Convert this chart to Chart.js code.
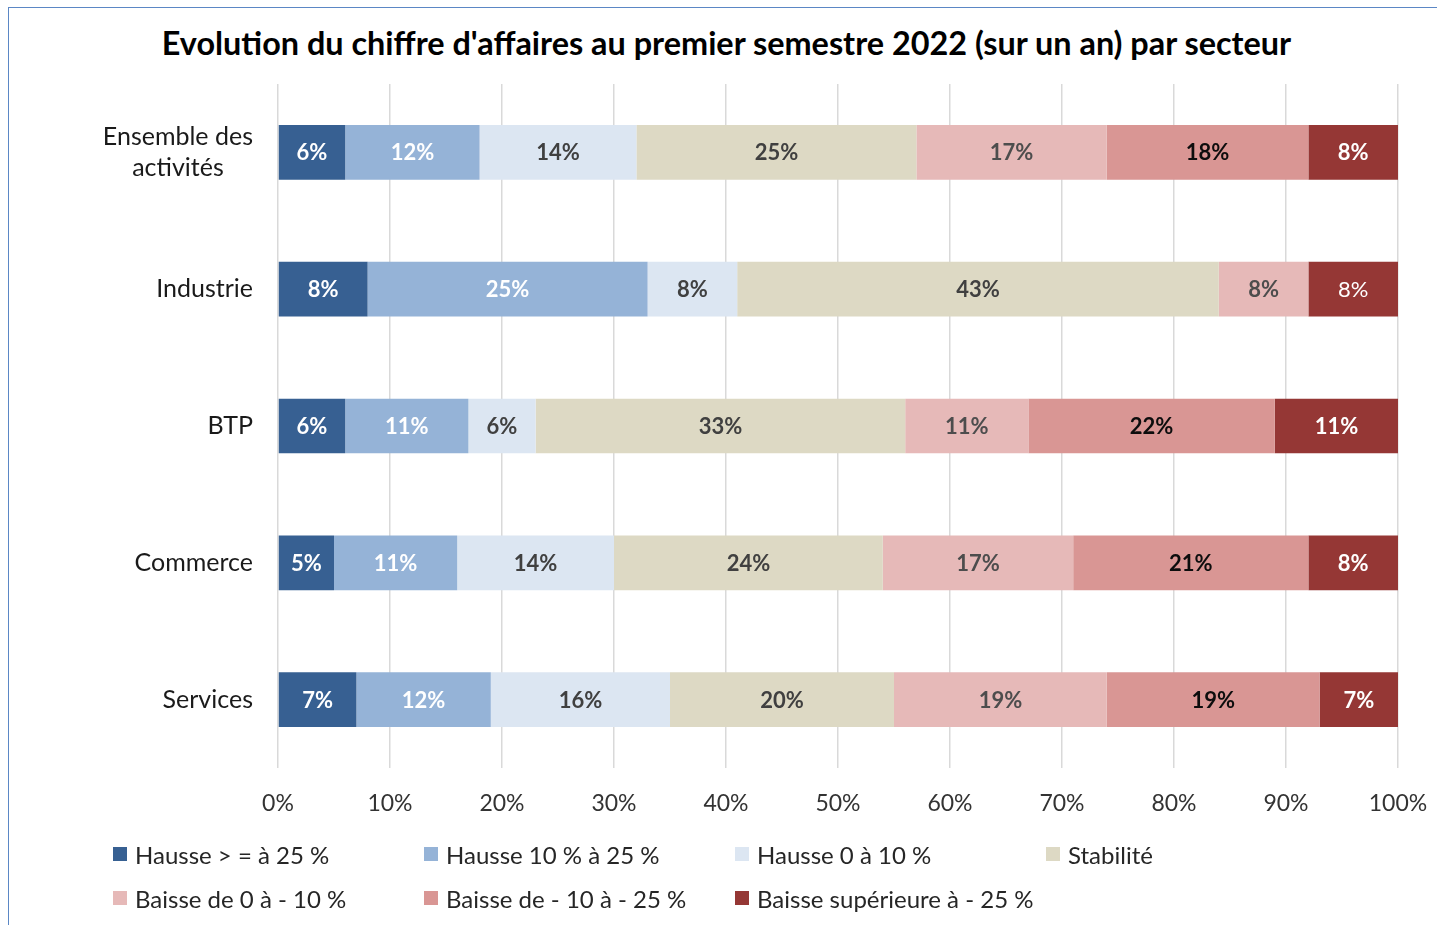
<!DOCTYPE html>
<html lang="fr">
<head>
<meta charset="utf-8">
<title>Evolution du chiffre d'affaires</title>
<script src="https://cdn.jsdelivr.net/npm/chart.js@4.4.1/dist/chart.umd.min.js"></script>
<style>
  html, body { margin: 0; padding: 0; background: #fff; }
  body { width: 1437px; height: 925px; position: relative; overflow: hidden; font-family: Lato, "Open Sans", sans-serif; }
  #frame { position: absolute; left: 8px; top: 7px; width: 1500px; height: 1000px; border: 1px solid #5b87c5; box-sizing: border-box; }
  #title { position: absolute; left: 0; width: 1453px; top: 24px; text-align: center; font-weight: bold; font-size: 32.4px; line-height: 38px; color: #000; }
  #wrap { position: absolute; left: 0; top: 0; width: 1437px; height: 925px; }
  #legend { position: absolute; left: 113px; top: 840px; display: grid; grid-template-columns: repeat(4, 311px); row-gap: 16px; }
  .item { display: flex; align-items: center; height: 28px; font-size: 24px; color: #262626; white-space: nowrap; }
  .sw { width: 14px; height: 14px; margin-right: 8px; flex: none; }
</style>
</head>
<body>
<div id="frame"></div>
<div id="title">Evolution du chiffre d'affaires au premier semestre 2022 (sur un an) par secteur</div>
<div id="wrap"><canvas id="chart" width="1437" height="925"></canvas></div>
<div id="legend"></div>
<script>
const $ = (id) => document.getElementById(id);

// categories (top to bottom)
const categories = [["Ensemble des", "activités"], "Industrie", "BTP", "Commerce", "Services"];

// series, in % of firms
const seriesNames = [
  "Hausse > = à 25 %",
  "Hausse 10 % à 25 %",
  "Hausse 0 à 10 %",
  "Stabilité",
  "Baisse de 0 à - 10 %",
  "Baisse de - 10 à - 25 %",
  "Baisse supérieure à - 25 %"
];
const hausse25 = [6, 8, 6, 5, 7];
const hausse10 = [12, 25, 11, 11, 12];
const hausse0 = [14, 8, 6, 14, 16];
const stabilite = [25, 43, 33, 24, 20];
const baisse0 = [17, 8, 11, 17, 19];
const baisse10 = [18, 0, 22, 21, 19];
const baisse25 = [8, 8, 11, 8, 7];

const xMin = 0;
const xMax = 100;
const xStep = 10;

// styles
const colors = ["#376092", "#95b3d7", "#dce6f2", "#ddd9c4", "#e6b9b8", "#d99694", "#953735"];
const labelColors = ["#ffffff", "#ffffff", "#404040", "#404040", "#4d4d4d", "#0d0d0d", "#ffffff"];
const normalWeightCells = [[6, 1]]; // dataset, category

const seriesValues = [hausse25, hausse10, hausse0, stabilite, baisse0, baisse10, baisse25];

$("legend").innerHTML = seriesNames
  .map((name, i) => `<div class="item"><span class="sw" style="background:${colors[i]}"></span>${name}</div>`)
  .join("");

const segmentLabels = {
  id: "segmentLabels",
  afterDatasetsDraw(chart) {
    const ctx = chart.ctx;
    ctx.save();
    ctx.textAlign = "center";
    ctx.textBaseline = "middle";
    chart.data.datasets.forEach((ds, i) => {
      chart.getDatasetMeta(i).data.forEach((bar, j) => {
        const v = ds.data[j];
        if (!v) return;
        const normal = normalWeightCells.some(([a, b]) => a === i && b === j);
        ctx.font = `${normal ? "" : "bold "}22px Lato`;
        ctx.fillStyle = labelColors[i];
        ctx.fillText(v + "%", (bar.x + bar.base) / 2, bar.y + 1);
      });
    });
    ctx.restore();
  }
};

const categoryLabels = {
  id: "categoryLabels",
  afterDraw(chart) {
    const yScale = chart.scales.y;
    const ctx = chart.ctx;
    const right = chart.chartArea.left - 25;
    ctx.save();
    ctx.font = "25px Lato";
    ctx.fillStyle = "#1a1a1a";
    ctx.textAlign = "center";
    ctx.textBaseline = "middle";
    categories.forEach((label, i) => {
      const lines = [].concat(label);
      const w = Math.max(...lines.map((l) => ctx.measureText(l).width));
      const cx = right - w / 2;
      const cy = yScale.getPixelForValue(i);
      lines.forEach((l, k) => ctx.fillText(l, cx, cy + (k - (lines.length - 1) / 2) * 31));
    });
    ctx.restore();
  }
};

new Chart($("chart").getContext("2d"), {
  type: "bar",
  data: {
    labels: categories,
    datasets: seriesNames.map((name, i) => ({
      label: name,
      data: seriesValues[i],
      backgroundColor: colors[i],
      borderWidth: 0,
      barPercentage: 0.8,
      categoryPercentage: 0.5
    }))
  },
  options: {
    indexAxis: "y",
    responsive: false,
    animation: false,
    layout: { padding: { top: 84, right: 39, bottom: 0, left: 0 } },
    plugins: {
      legend: { display: false },
      tooltip: { enabled: false }
    },
    scales: {
      x: {
        stacked: true,
        min: xMin,
        max: xMax,
        grid: { color: "#d9d9d9", lineWidth: 1.5, drawTicks: false },
        border: { display: false },
        ticks: {
          stepSize: xStep,
          padding: 22,
          color: "#333333",
          font: { family: "Lato", size: 23 },
          callback: (v) => v + "%"
        },
        afterFit: (scale) => {
          scale.height = 157;
          scale.paddingLeft = 0;
          scale.paddingRight = 0;
        }
      },
      y: {
        stacked: true,
        grid: { display: false },
        border: { display: false },
        ticks: { display: false },
        afterFit: (scale) => { scale.width = 278; }
      }
    }
  },
  plugins: [segmentLabels, categoryLabels]
});
</script>
</body>
</html>
